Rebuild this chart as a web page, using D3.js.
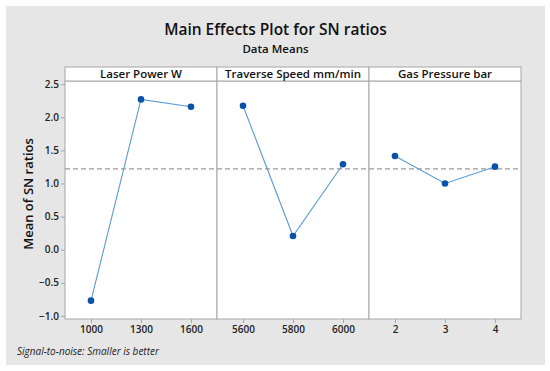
<!DOCTYPE html>
<html>
<head>
<meta charset="utf-8">
<script src="https://cdn.jsdelivr.net/npm/d3@7"></script>
<style>
  body { margin: 0; background: #fff; }
  svg { display: block; font-family: "Open Sans", "Noto Sans", sans-serif; }
</style>
</head>
<body>
<div id="chart"><svg></svg></div>
<script>
(function() {
  'use strict';

  // factors and their levels
  var factorNames = ['Laser Power W', 'Traverse Speed mm/min', 'Gas Pressure bar'];
  var laserLevels = ['1000', '1300', '1600'];
  var speedLevels = ['5600', '5800', '6000'];
  var pressureLevels = ['2', '3', '4'];

  // mean of SN ratios per level
  var laserMeans = [-0.77, 2.27, 2.16];
  var speedMeans = [2.175, 0.207, 1.29];
  var pressureMeans = [1.415, 1.0, 1.254];

  var grandMean = 1.222;
  var yTicks = [-1.0, -0.5, 0.0, 0.5, 1.0, 1.5, 2.0, 2.5];

  var panels = [
    {name: factorNames[0], levels: laserLevels, means: laserMeans},
    {name: factorNames[1], levels: speedLevels, means: speedMeans},
    {name: factorNames[2], levels: pressureLevels, means: pressureMeans}
  ];

  var svgW = 550, svgH = 371,
    margin = {top: 81, right: 29, bottom: 52, left: 65},
    headerH = 14,
    width = svgW - margin.left - margin.right,
    height = svgH - margin.top - margin.bottom,
    panelW = width / panels.length,
    frameColor = '#a6a6a6';

  var svg = d3.select('#chart svg')
    .attr('width', svgW)
    .attr('height', svgH);

  svg.append('rect')
    .attr('x', 6)
    .attr('y', 6)
    .attr('width', 539)
    .attr('height', 359)
    .attr('fill', '#e6e6e6');

  svg.append('text')
    .attr('x', 275.5)
    .attr('y', 35)
    .attr('text-anchor', 'middle')
    .attr('font-size', 15.5)
    .attr('font-weight', 600)
    .attr('fill', '#111')
    .text('Main Effects Plot for SN ratios');

  svg.append('text')
    .attr('x', 275.5)
    .attr('y', 53)
    .attr('text-anchor', 'middle')
    .attr('font-size', 11.5)
    .attr('font-weight', 600)
    .attr('fill', '#111')
    .text('Data Means');

  var y = d3.scaleLinear()
    .domain([-1.047, 2.548])
    .range([height, 0]);

  var g = svg.append('g')
    .attr('transform', 'translate(' + margin.left + ',' + margin.top + ')');

  // y axis
  var yAxis = g.append('g')
    .call(d3.axisLeft(y).tickValues(yTicks).tickFormat(d3.format('.1f')).tickSize(4).tickPadding(2));
  yAxis.select('.domain').remove();
  yAxis.selectAll('line').attr('stroke', frameColor);
  yAxis.selectAll('text')
    .attr('font-size', 10)
    .attr('font-weight', 600)
    .attr('fill', '#222')
    .style('font-family', '"Open Sans", sans-serif');

  svg.append('text')
    .attr('transform', 'translate(33,' + (margin.top + height / 2 - 6) + ') rotate(-90)')
    .attr('text-anchor', 'middle')
    .attr('font-size', 13)
    .attr('font-weight', 600)
    .attr('fill', '#111')
    .text('Mean of SN ratios');

  var line = d3.line()
    .x(function(d) { return d.x; })
    .y(function(d) { return y(d.v); });

  panels.forEach(function(p, i) {
    var pg = g.append('g')
      .attr('transform', 'translate(' + (i * panelW) + ',0)');

    var x = d3.scalePoint()
      .domain(p.levels)
      .range([0, panelW])
      .padding(0.52);

    pg.append('rect')
      .attr('width', panelW)
      .attr('height', height)
      .attr('fill', '#fff')
      .attr('stroke', frameColor);

    pg.append('rect')
      .attr('y', -headerH)
      .attr('width', panelW)
      .attr('height', headerH)
      .attr('fill', '#fff')
      .attr('stroke', frameColor);

    pg.append('text')
      .attr('x', panelW / 2)
      .attr('y', -3)
      .attr('text-anchor', 'middle')
      .attr('font-size', 11.5)
      .attr('font-weight', 600)
      .attr('fill', '#111')
      .text(p.name);

    var xAxis = pg.append('g')
      .attr('transform', 'translate(0,' + height + ')')
      .call(d3.axisBottom(x).tickSize(4).tickPadding(3));
    xAxis.select('.domain').remove();
    xAxis.selectAll('line').attr('stroke', frameColor);
    xAxis.selectAll('text')
      .attr('font-size', 10)
      .attr('font-weight', 600)
      .attr('fill', '#222')
      .style('font-family', '"Open Sans", sans-serif');

    pg.append('line')
      .attr('x1', 0)
      .attr('x2', panelW)
      .attr('y1', y(grandMean))
      .attr('y2', y(grandMean))
      .attr('stroke', '#999')
      .attr('stroke-width', 1.3)
      .attr('stroke-dasharray', '5,3');

    var pts = p.levels.map(function(l, j) {
      return {x: x(l), v: p.means[j]};
    });

    pg.append('path')
      .datum(pts)
      .attr('fill', 'none')
      .attr('stroke', '#5b9bd5')
      .attr('stroke-width', 1.1)
      .attr('d', line);

    pg.selectAll('circle')
      .data(pts)
      .enter().append('circle')
      .attr('cx', function(d) { return d.x; })
      .attr('cy', function(d) { return y(d.v); })
      .attr('r', 3.3)
      .attr('fill', '#0a52a8');
  });

  svg.append('text')
    .attr('x', 17)
    .attr('y', 355)
    .attr('font-size', 10)
    .attr('font-style', 'italic')
    .attr('fill', '#222')
    .text('Signal-to-noise: Smaller is better');
}());
</script>
</body>
</html>
